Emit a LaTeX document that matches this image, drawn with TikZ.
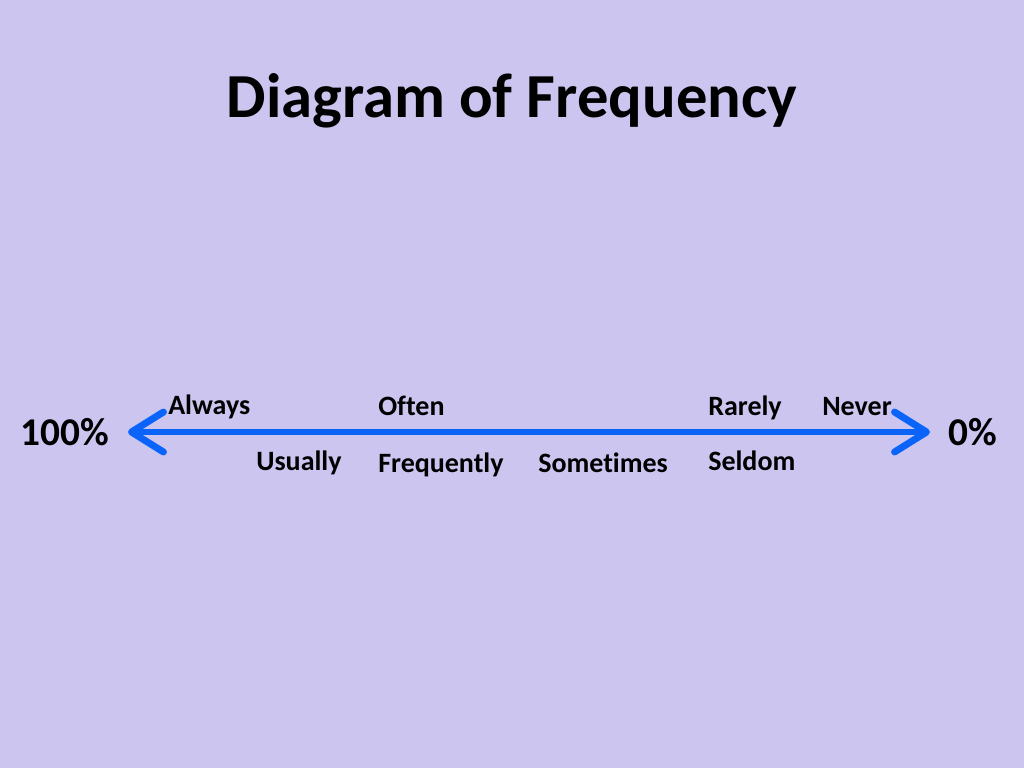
\documentclass[tikz,border=0pt]{standalone}
\usepackage{fontspec}
\setmainfont[Ligatures={NoCommon}]{Carlito}
\usepackage{tikz}
\usetikzlibrary{arrows.meta}
\definecolor{slidebg}{HTML}{CBC5F0}
\definecolor{arrowblue}{HTML}{0A64FA}
\tikzstyle{title} = [anchor=base, font=\bfseries\fontsize{47}{56}\selectfont]
\tikzstyle{pct} = [anchor=base west, inner sep=0pt, font=\bfseries\fontsize{29.5}{35}\selectfont]
\tikzstyle{word} = [anchor=base west, inner sep=0pt, font=\bfseries\fontsize{21}{25}\selectfont]
\tikzstyle{line} = [draw=arrowblue, line width=5.2pt, line cap=round,
    {Straight Barb[length=24pt, width=30pt, line width=5.2pt, round]}-{Straight Barb[length=24pt, width=30pt, line width=5.2pt, round]}]

\begin{document}
\begin{tikzpicture}[x=0.75pt, y=-0.75pt]
   % Background
    \fill [slidebg] (0,0) rectangle (1024,768);
    \useasboundingbox (0,0) rectangle (1024,768);
   % Place nodes
    \node [title] (head) at (512,117) {Diagram of Frequency};
    \node [pct] (full) at (20,445) {100\%};
    \node [pct] (none) at (948,445) {0\%};
    \node [word] (always) at (168,414) {Always};
    \node [word] (often) at (378,415) {Often};
    \node [word] (rarely) at (708,415) {Rarely};
    \node [word] (never) at (822,415) {Never};
    \node [word] (usually) at (256,470) {Usually};
    \node [word] (frequently) at (378,472) {Frequently};
    \node [word] (sometimes) at (538,472) {Sometimes};
    \node [word] (seldom) at (708,470) {Seldom};
    \coordinate (left) at (128,432);
    \coordinate (right) at (930,432);
   % Draw edges
    \path [line] (left) -- (right);
\end{tikzpicture}
\end{document}
